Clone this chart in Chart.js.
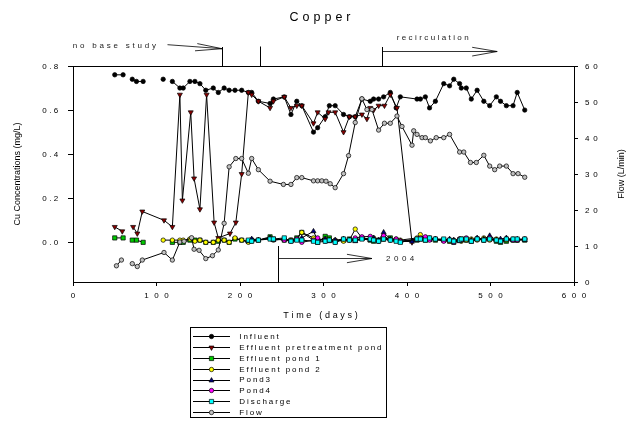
<!DOCTYPE html>
<html>
<head>
<meta charset="utf-8">
<title>Copper</title>
<script src="https://cdn.jsdelivr.net/npm/chart.js@4.4.1/dist/chart.umd.min.js"></script>
<style>
  html, body { margin: 0; padding: 0; background: #fff; }
  canvas { display: block; }
</style>
</head>
<body>
<canvas id="chart" width="634" height="424"></canvas>
<script>
// ---- Copper monitoring data (x = time in days) ----
// null entries mark missing samples (the line is broken there)
const influentDays = [50,60,65,71,76,84,96,108,114,119,128,132,140,146,152,159,168,174,181,187,194,202,210,214,222,236,240,253,261,268,274,288,293,302,307,314,324,331,338,346,356,360,366,372,380,387,392,412,416,422,427,434,444,451,456,463,465,471,477,484,492,499,507,512,519,527,532,541];
const influent = [0.76,0.76,null,0.74,0.73,0.73,null,0.74,null,0.73,0.70,0.70,0.73,0.73,0.72,0.69,0.70,0.68,0.70,0.69,0.69,0.69,0.68,0.68,0.64,0.63,0.65,0.66,0.58,0.64,0.62,0.50,0.52,0.57,0.62,0.62,0.58,0.57,0.57,0.65,0.64,0.65,0.65,0.66,0.68,0.61,0.66,0.65,0.65,0.66,0.61,0.64,0.72,0.71,0.74,0.72,0.70,0.70,0.65,0.69,0.64,0.62,0.66,0.64,0.62,0.62,0.68,0.60];

const pretreatDays = [50,59,65,72,77,83,109,119,128,131,141,145,152,160,169,174,188,195,202,210,214,222,236,240,253,261,268,274,288,293,302,306,314,324,331,338,346,352,356,360,366,373,380,388,406];
const pretreat = [0.07,0.05,null,0.07,0.04,0.14,0.10,0.07,0.67,0.19,0.59,0.29,0.15,0.67,0.09,0.02,0.04,0.09,0.31,0.68,0.67,0.64,0.61,0.64,0.66,0.61,0.62,0.62,0.54,0.59,0.56,0.59,0.59,0.50,0.57,0.57,0.58,0.56,0.61,0.60,0.62,0.62,0.67,0.61,0.00];

const pond1Days = [50,60,65,71,76,84,96,119,128,132,140,146,152,159,168,174,181,187,194,202,210,214,222,236,240,253,261,268,274,288,293,302,307,314,324,331,338,346,356,360,366,372,380,387,392,412,416,422,427,434,444,451,456,463,465,471,477,484,492,499,507,512,519,527,532,541];
const pond1 = [0.02,0.02,null,0.01,0.01,0.00,null,0.00,0.00,0.00,0.01,0.01,0.01,0.00,0.00,0.005,0.01,0.00,0.015,0.01,0.005,0.01,0.01,0.025,0.015,0.01,0.01,0.02,0.045,0.01,0.00,0.027,0.02,0.005,0.01,0.015,0.01,0.02,0.01,0.005,0.01,0.015,0.02,0.01,0.005,0.01,0.015,0.01,0.015,0.01,0.01,0.005,0.00,0.01,0.015,0.01,0.005,0.015,0.01,0.015,0.005,0.00,0.005,0.01,0.01,0.01];

const pond2Days = [108,119,128,132,140,146,152,159,168,174,181,187,194,202,210,214,222,236,240,253,261,268,274,288,293,302,307,314,324,331,338,346,356,360,366,372,380,387,392,412,416,422,427,434,444,451,456,463,465,471,477,484,492,499,507,512,519,527,532,541];
const pond2 = [0.01,0.01,0.01,0.01,0.015,0.005,0.01,0.00,0.00,0.01,0.01,0.00,0.02,0.01,0.00,0.005,0.01,0.02,0.01,0.015,0.01,0.015,0.045,0.02,0.005,0.015,0.01,0.01,0.005,0.01,0.06,0.02,0.015,0.02,0.005,0.015,0.01,0.015,0.01,0.02,0.035,0.015,0.02,0.015,0.01,0.005,0.01,0.015,0.005,0.01,0.015,0.01,0.02,0.01,0.015,0.005,0.01,0.015,0.01,0.015];

const pond3Days = [210,214,222,236,240,253,261,268,274,288,293,302,307,314,324,331,338,346,356,360,366,372,380,387,392,406,412,416,422,427,434,444,451,456,463,465,471,477,484,492,499,507,512,519,527,532,541];
const pond3 = [0.005,0.015,0.01,0.02,0.01,0.015,0.005,0.01,0.02,0.05,0.01,0.015,0.005,0.01,0.015,0.01,0.005,0.015,0.01,0.02,0.01,0.045,0.015,0.01,0.005,0.003,0.01,0.015,0.02,0.01,0.015,0.01,0.015,0.01,0.005,0.01,0.015,0.01,0.02,0.015,0.03,0.01,0.015,0.02,0.01,0.015,0.01];

const pond4Days = [253,261,268,274,288,293,302,307,314,324,331,338,346,356,360,366,372,380,387,392,412,416,422,427,434,444,451,456,463,465,471,477,484,492,499,507,512,519,527,532,541];
const pond4 = [0.01,0.005,0.015,0.00,0.01,0.02,0.005,0.01,0.00,0.015,0.01,0.02,0.025,0.027,0.01,0.005,0.03,0.01,0.015,0.005,0.015,0.02,0.025,0.01,0.015,0.005,0.01,0.00,0.015,0.01,0.02,0.005,0.015,0.01,0.02,0.01,0.005,0.015,0.01,0.01,0.015];

const dischargeDays = [210,214,222,236,240,253,261,268,274,288,293,302,307,314,324,331,338,346,356,360,366,372,380,387,392,412,416,422,427,434,444,451,456,463,465,471,477,484,492,499,507,512,519,527,532,541];
const discharge = [0.01,0.005,0.01,0.015,0.015,0.02,0.005,0.01,0.01,0.005,0.00,0.005,0.01,0.00,0.015,0.01,0.01,0.015,0.015,0.01,0.005,0.015,0.01,0.005,0.00,0.015,0.015,0.01,0.02,0.015,0.015,0.01,0.005,0.01,0.015,0.015,0.005,0.015,0.01,0.015,0.01,0.005,0.015,0.015,0.015,0.015];

// Flow in L/min, plotted on the right axis
const flowDays = [52,58,65,71,77,83,109,119,128,133,142,145,151,159,167,174,181,187,195,202,210,214,222,236,252,261,268,274,288,293,298,303,308,314,324,330,338,346,352,358,366,373,380,388,394,406,408,412,418,422,428,435,444,451,463,468,476,483,492,499,505,511,519,527,533,541];
const flow = [4.5,6.1,null,5.1,4.3,6.1,8.2,6.1,11.1,11.3,12.3,9.1,8.8,6.5,7.3,8.9,16.3,32,34.3,34.3,30.2,34.3,31.2,28,27.1,27.1,29,29,28.1,28.1,28.1,28,27.3,26.2,30.1,35.1,44.3,50.9,47.9,47.9,42.2,44.1,44.1,46.1,43.2,38,42,41,40.1,40.1,39.2,40.1,40.1,41,36.1,36.1,33.2,33.2,35.2,32.2,31.2,32.2,32.2,30.1,30.1,29.1];

// Axis ticks and labels
const xTicks = [0,100,200,300,400,500,600];
const cuTicks = [0.0,0.2,0.4,0.6,0.8];
const flowTicks = [0,10,20,30,40,50,60];
const seriesNames = ['Influent','Effluent pretreatment pond','Effluent pond 1','Effluent pond 2','Pond3','Pond4','Discharge','Flow'];

// Event markers (days)
const baseStudyEnd = 178;
const secondMark = 224;
const recircStart = 370;
const recircArrowEnd = 508;
const startOf2004 = 246;
const arrow2004End = 358;

const FONT = '"Liberation Sans", Arial, Helvetica, sans-serif';

function pts(days, vals) {
  return days.map((d, i) => ({ x: d, y: vals[i] }));
}

const styles = [
  { style: 'circle',   color: '#000000', radius: 2.2, rot: 0 },
  { style: 'triangle', color: '#8b0000', radius: 2.9, rot: 180 },
  { style: 'rect',     color: '#00c800', radius: 3.0, rot: 0 },
  { style: 'circle',   color: '#ffff00', radius: 2.2, rot: 0 },
  { style: 'triangle', color: '#000080', radius: 2.9, rot: 0 },
  { style: 'circle',   color: '#ff00ff', radius: 2.2, rot: 0 },
  { style: 'rect',     color: '#00ffff', radius: 3.0, rot: 0 },
  { style: 'circle',   color: '#c0c0c0', radius: 2.2, rot: 0 }
];

const seriesData = [
  pts(influentDays, influent),
  pts(pretreatDays, pretreat),
  pts(pond1Days, pond1),
  pts(pond2Days, pond2),
  pts(pond3Days, pond3),
  pts(pond4Days, pond4),
  pts(dischargeDays, discharge),
  pts(flowDays, flow)
];

const datasets = seriesData.map((data, i) => ({
  label: seriesNames[i],
  data,
  yAxisID: i === 7 ? 'y2' : 'y',
  borderColor: '#000',
  borderWidth: 1,
  backgroundColor: styles[i].color,
  pointStyle: styles[i].style,
  pointRotation: styles[i].rot,
  pointRadius: styles[i].radius,
  pointBackgroundColor: styles[i].color,
  pointBorderColor: '#000',
  pointBorderWidth: 0.7,
  spanGaps: false,
  tension: 0,
  fill: false,
  order: 10 - i
}));

// draws a string with extra space between characters
function spacedText(ctx, text, x, y, ls, align) {
  const chars = [...text];
  const w = chars.map(c => ctx.measureText(c).width);
  const total = w.reduce((a, b) => a + b, 0) + ls * (chars.length - 1);
  let cx = align === 'center' ? x - total / 2 : (align === 'right' ? x - total : x);
  ctx.textAlign = 'left';
  chars.forEach((c, i) => { ctx.fillText(c, cx, y); cx += w[i] + ls; });
}

function seg(ctx, x1, y1, x2, y2) {
  ctx.beginPath();
  ctx.moveTo(x1, y1);
  ctx.lineTo(x2, y2);
  ctx.stroke();
}

const decorations = {
  id: 'decorations',
  afterDraw(chart) {
    const ctx = chart.ctx;
    const a = chart.chartArea;
    const sx = chart.scales.x, sy = chart.scales.y, sy2 = chart.scales.y2;
    ctx.save();
    ctx.fillStyle = '#000';
    ctx.strokeStyle = '#000';
    ctx.lineWidth = 1;
    ctx.textBaseline = 'alphabetic';

    // top frame line
    seg(ctx, a.left, Math.round(a.top) + 0.5, a.right + 0.5, Math.round(a.top) + 0.5);

    // tick labels
    ctx.font = '8px ' + FONT;
    sx.ticks.forEach(t => {
      spacedText(ctx, String(t.value), sx.getPixelForValue(t.value), a.bottom + 16.3, 5.5, 'center');
    });
    sy.ticks.forEach(t => {
      spacedText(ctx, t.value.toFixed(1), a.left - 14.7, sy.getPixelForValue(t.value) + 2.8, 2.5, 'right');
    });
    sy2.ticks.forEach(t => {
      spacedText(ctx, String(t.value), a.right + 11, sy2.getPixelForValue(t.value) + 3, 3.9, 'left');
    });

    // chart title
    ctx.font = '12.5px ' + FONT;
    spacedText(ctx, 'Copper', 320, 20.7, 4, 'center');

    // axis titles
    ctx.font = '9px ' + FONT;
    spacedText(ctx, 'Time (days)', 320.5, 317.5, 2.7, 'center');
    const midY = (a.top + a.bottom) / 2;
    ctx.save();
    ctx.translate(20, midY);
    ctx.rotate(-Math.PI / 2);
    ctx.textAlign = 'center';
    ctx.fillText('Cu Concentrations (mg/L)', 0, 0);
    ctx.restore();
    ctx.save();
    ctx.translate(624, midY);
    ctx.rotate(-Math.PI / 2);
    ctx.textAlign = 'center';
    ctx.fillText('Flow (L/min)', 0, 0);
    ctx.restore();

    // event annotations
    ctx.lineWidth = 1;
    const xb = Math.round(sx.getPixelForValue(baseStudyEnd)) + 0.5;
    const x2 = Math.round(sx.getPixelForValue(secondMark)) + 0.5;
    const xr = Math.round(sx.getPixelForValue(recircStart)) + 0.5;
    const xre = sx.getPixelForValue(recircArrowEnd);
    const x4 = Math.round(sx.getPixelForValue(startOf2004)) + 0.5;
    const x4e = sx.getPixelForValue(arrow2004End);

    seg(ctx, xb, a.top - 19, xb, a.top);
    seg(ctx, x2, a.top - 19.5, x2, a.top);
    seg(ctx, xr, a.top - 19, xr, a.top);

    ctx.lineWidth = 0.8;
    // "no base study" arrow
    seg(ctx, 167.5, 44.7, xb - 0.5, 48.7);
    seg(ctx, 197.3, 43.6, xb - 0.5, 48.7);
    seg(ctx, 195, 50.8, xb - 0.5, 48.7);
    // recirculation arrow
    seg(ctx, xr, 51.5, xre, 51.5);
    seg(ctx, xre - 25, 47.3, xre, 51.5);
    seg(ctx, xre - 25, 56, xre, 51.5);
    // 2004 marker and arrow
    ctx.lineWidth = 1;
    seg(ctx, x4, a.bottom - 36, x4, a.bottom);
    ctx.lineWidth = 0.8;
    seg(ctx, x4, 258.5, x4e, 258.5);
    seg(ctx, x4e - 25, 254.3, x4e, 258.5);
    seg(ctx, x4e - 25, 262.7, x4e, 258.5);

    ctx.fillStyle = '#222';
    ctx.font = '8px ' + FONT;
    spacedText(ctx, 'no base study', 72.7, 47.7, 2.8, 'left');
    spacedText(ctx, 'recirculation', 396.7, 40, 2.4, 'left');
    spacedText(ctx, '2004', 386, 261, 3.5, 'left');

    // legend box
    ctx.strokeStyle = '#000';
    ctx.lineWidth = 1;
    ctx.strokeRect(190.5, 327.5, 196, 90);
    seriesNames.forEach((name, i) => {
      const y = 336.3 + i * 10.8;
      ctx.strokeStyle = '#000';
      ctx.lineWidth = 1;
      seg(ctx, 193, Math.round(y) + 0.5, 230, Math.round(y) + 0.5);
      ctx.fillStyle = styles[i].color;
      ctx.strokeStyle = '#000';
      ctx.lineWidth = 0.7;
      Chart.helpers.drawPoint(ctx, {
        pointStyle: styles[i].style,
        rotation: styles[i].rot,
        radius: styles[i].radius,
        borderWidth: 0.7
      }, 211.5, Math.round(y) + 0.5);
      ctx.fillStyle = '#000';
      ctx.font = '8px ' + FONT;
      spacedText(ctx, name, 239.3, y + 2.9, 1.9, 'left');
    });

    ctx.restore();
  }
};

new Chart(document.getElementById('chart'), {
  type: 'line',
  data: { datasets },
  options: {
    responsive: false,
    animation: false,
    devicePixelRatio: 1,
    layout: { padding: { top: 66, left: 0, right: 0, bottom: 0 } },
    plugins: {
      legend: { display: false },
      tooltip: { enabled: false },
      title: { display: false }
    },
    scales: {
      x: {
        type: 'linear',
        min: 0,
        max: 600,
        afterBuildTicks(s) { s.ticks = xTicks.map(v => ({ value: v })); },
        ticks: { display: false },
        grid: { drawOnChartArea: false, drawTicks: true, tickLength: 4, color: '#000', lineWidth: 1 },
        border: { display: true, color: '#000', width: 1 },
        afterFit(s) { s.height = 142; }
      },
      y: {
        type: 'linear',
        position: 'left',
        min: -0.18,
        max: 0.8,
        afterBuildTicks(s) { s.ticks = cuTicks.map(v => ({ value: v })); },
        ticks: { display: false },
        grid: { drawOnChartArea: false, drawTicks: true, tickLength: 5, color: '#000', lineWidth: 1 },
        border: { display: true, color: '#000', width: 1 },
        afterFit(s) { s.width = 73; }
      },
      y2: {
        type: 'linear',
        position: 'right',
        min: 0,
        max: 60,
        afterBuildTicks(s) { s.ticks = flowTicks.map(v => ({ value: v })); },
        ticks: { display: false },
        grid: { drawOnChartArea: false, drawTicks: true, tickLength: 4, color: '#000', lineWidth: 1 },
        border: { display: true, color: '#000', width: 1 },
        afterFit(s) { s.width = 60; }
      }
    }
  },
  plugins: [decorations]
});
</script>
</body>
</html>
